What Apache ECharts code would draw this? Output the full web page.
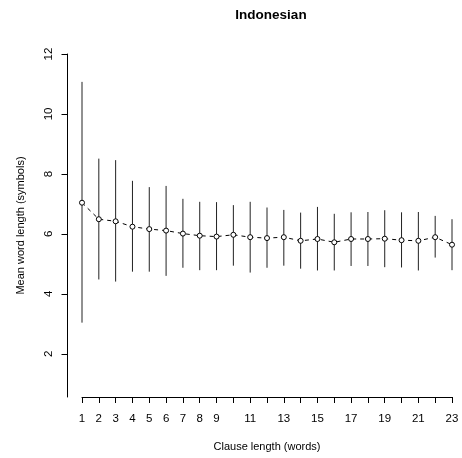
<!DOCTYPE html>
<html>
<head>
<meta charset="utf-8">
<script src="https://cdn.jsdelivr.net/npm/echarts@6/dist/echarts.min.js"></script>
<style>html,body{margin:0;padding:0;background:#fff;}#c{width:462px;height:458px;}</style>
</head>
<body>
<div id="c"></div>
<script>
var clauseLengths = [1,2,3,4,5,6,7,8,9,10,11,12,13,14,15,16,17,18,19,20,21,22,23];
var meanValues = [7.04,6.49,6.42,6.24,6.16,6.11,6.01,5.94,5.91,5.97,5.89,5.86,5.89,5.77,5.83,5.72,5.83,5.83,5.84,5.79,5.77,5.89,5.64];
var upperValues = [11.07,8.51,8.46,7.77,7.56,7.60,7.17,7.07,7.06,6.96,7.07,6.88,6.80,6.71,6.90,6.67,6.72,6.73,6.79,6.72,6.73,6.60,6.49];
var lowerValues = [3.04,4.48,4.41,4.74,4.74,4.60,4.87,4.79,4.79,4.94,4.71,4.87,4.94,4.84,4.78,4.78,4.93,4.93,4.89,4.88,4.78,5.21,4.79];
var xTickLabels = [1,2,3,4,5,6,7,8,9,11,13,15,17,19,21,23];
var yTickLabels = [2,4,6,8,10,12];

var FONT = 'Liberation Sans, Arial, sans-serif';
var chart = echarts.init(document.getElementById('c'), null, {renderer:'canvas'});
var lineData = clauseLengths.map(function(x,i){return [x, meanValues[i]];});
var barData = clauseLengths.map(function(x,i){return [x, lowerValues[i], upperValues[i]];});

chart.setOption({
  animation:false,
  backgroundColor:'#ffffff',
  title:{text:'Indonesian', left:266, top:3, textAlign:'center',
    textStyle:{fontFamily:FONT, fontWeight:'bold', fontSize:13.5, color:'#000'}},
  grid:[
    {left:67.5, right:10, top:54, bottom:61},
    {left:82, right:10, top:54, bottom:61}
  ],
  xAxis:[
    {gridIndex:0, type:'value', min:0, max:1, show:false},
    {gridIndex:1, type:'value', min:1, max:23, interval:1,
      name:'Clause length (words)', nameLocation:'middle', nameGap:44,
      nameTextStyle:{fontFamily:FONT, fontSize:11, color:'#000'},
      axisLine:{show:true, onZero:false, lineStyle:{color:'#000', width:1}},
      axisTick:{show:true, length:6, lineStyle:{color:'#000'}},
      splitLine:{show:false},
      axisLabel:{customValues:xTickLabels, margin:16, fontFamily:FONT, fontSize:11.5, color:'#000'}}
  ],
  yAxis:[
    {gridIndex:0, type:'value', min:0.56, max:12,
      name:'Mean word length (symbols)', nameLocation:'middle', nameGap:41,
      nameTextStyle:{fontFamily:FONT, fontSize:11, color:'#000'},
      axisLine:{show:true, onZero:false, lineStyle:{color:'#000', width:1}},
      axisTick:{show:true, length:6, customValues:yTickLabels, lineStyle:{color:'#000'}},
      splitLine:{show:false},
      axisLabel:{customValues:yTickLabels, rotate:90, margin:13, fontFamily:FONT, fontSize:11.5, color:'#000'}},
    {gridIndex:1, type:'value', min:0.56, max:12, show:false, splitLine:{show:false}}
  ],
  series:[
    {type:'custom', xAxisIndex:1, yAxisIndex:1, data:barData,
      renderItem:function(params, api){
        var p1 = api.coord([api.value(0), api.value(1)]);
        var p2 = api.coord([api.value(0), api.value(2)]);
        return {type:'line', shape:{x1:p1[0], y1:p1[1], x2:p2[0], y2:p2[1]},
          style:{stroke:'#222', lineWidth:1}};
      }, z:1},
    {type:'line', xAxisIndex:1, yAxisIndex:1, data:lineData,
      symbol:'circle', symbolSize:5,
      lineStyle:{color:'#000', width:1, type:[4,4]},
      itemStyle:{color:'#fff', borderColor:'#000', borderWidth:1}, z:2}
  ]
});
</script>
</body>
</html>
